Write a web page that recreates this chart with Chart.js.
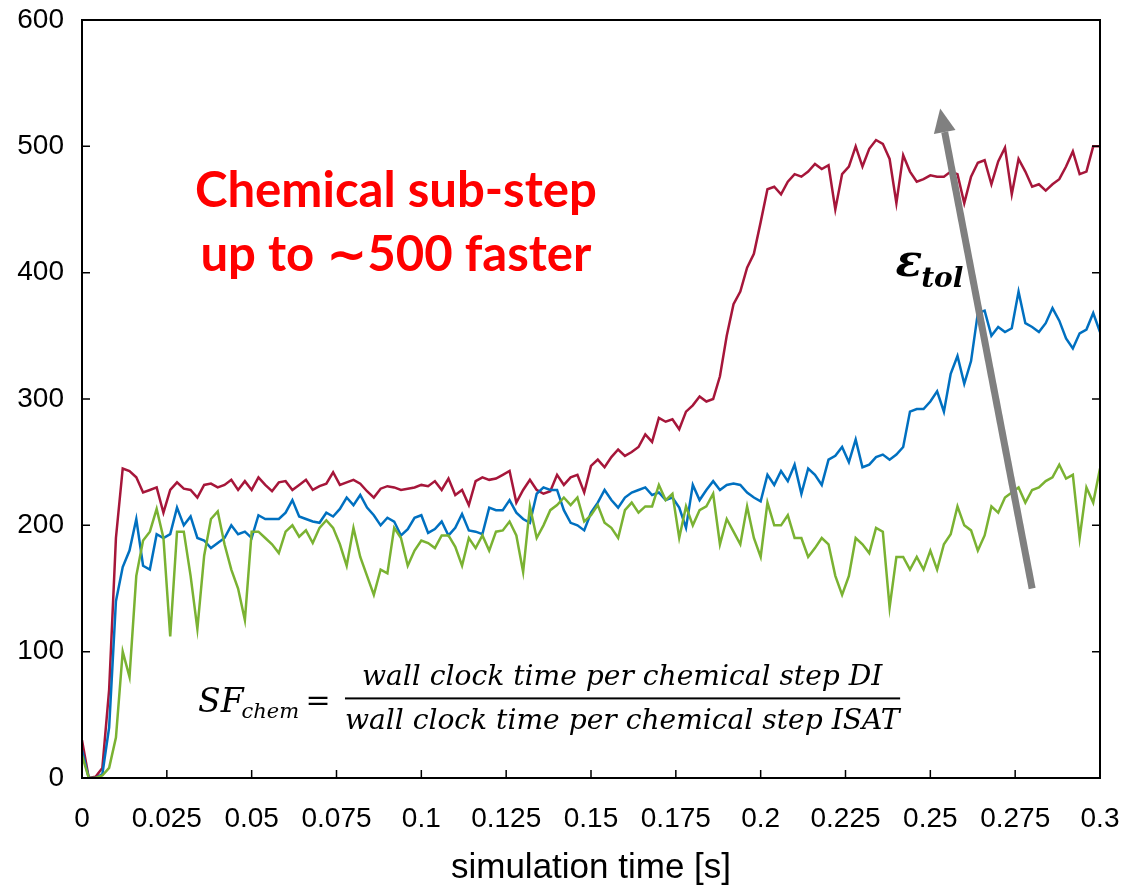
<!DOCTYPE html>
<html>
<head>
<meta charset="utf-8">
<script src="https://cdn.jsdelivr.net/npm/chart.js@4.4.0/dist/chart.umd.min.js"></script>
<style>
  html, body { margin: 0; padding: 0; background: #fff; }
  #wrap { width: 1129px; height: 889px; }
</style>
</head>
<body>
<div id="wrap"><canvas id="sf-chart" width="1129" height="889"></canvas></div>
<script>
'use strict';

// sample spacing of the three runs [s]
const timeStep = 0.002;
const xTicks = [ 0, 0.025, 0.05, 0.075, 0.1, 0.125, 0.15, 0.175, 0.2, 0.225, 0.25, 0.275, 0.3, ];
const yTicks = [ 0, 100, 200, 300, 400, 500, 600, ];

// speed-up factor, loosest tolerance (top curve)
const sfLoose = [
  30, 0, 1, 8, 70, 190, 245, 243, 238, 226, 228, 230, 210, 228, 234, 229, 228, 222, 232, 233, 230, 232, 236, 228, 235, 228, 238, 232, 227, 234, 235,
  228, 232, 236, 228, 231, 233, 242, 232, 234, 236, 233, 227, 222, 229, 231, 230, 228, 229, 230, 232, 231, 235, 228, 237, 224, 228, 216, 235, 238, 236, 237,
  240, 243, 218, 228, 236, 228, 225, 227, 240, 232, 238, 240, 226, 247, 252, 246, 254, 260, 255, 258, 262, 272, 266, 285, 282, 284, 276, 290, 295, 302,
  298, 300, 318, 350, 375, 385, 404, 415, 440, 466, 468, 462, 472, 478, 476, 480, 486, 482, 485, 450, 478, 484, 500, 484, 498, 505, 502, 490, 455, 493,
  480, 472, 474, 477, 476, 476, 480, 478, 455, 476, 487, 489, 470, 488, 499, 462, 490, 480, 468, 470, 465, 470, 474, 484, 496, 478, 480, 500, 500,
];
// middle tolerance
const sfMid = [
  22, 0, 0, 3, 40, 140, 167, 180, 205, 168, 165, 193, 190, 193, 214, 200, 207, 190, 188, 182, 186, 190, 200, 193, 195, 190, 208, 205, 205, 205, 210,
  220, 207, 205, 203, 202, 210, 207, 213, 222, 216, 224, 214, 208, 200, 206, 203, 192, 197, 206, 208, 194, 197, 203, 192, 198, 209, 196, 195, 193, 214, 212,
  212, 220, 210, 205, 202, 225, 230, 228, 228, 212, 202, 200, 196, 210, 218, 228, 220, 214, 222, 226, 228, 230, 224, 226, 220, 222, 214, 198, 232, 220,
  228, 235, 228, 232, 233, 232, 226, 222, 219, 240, 232, 243, 235, 248, 225, 245, 240, 232, 252, 255, 262, 250, 268, 246, 248, 254, 256, 252, 256, 262,
  290, 292, 292, 298, 306, 290, 320, 334, 312, 330, 368, 370, 350, 357, 353, 356, 385, 360, 357, 353, 360, 372, 362, 348, 340, 352, 355, 368, 353,
];
// tightest tolerance
const sfTight = [
  18, 0, 0, 2, 8, 32, 100, 80, 160, 188, 195, 213, 190, 112, 195, 195, 160, 118, 176, 205, 211, 185, 165, 150, 125, 195, 195, 190, 185, 178, 195,
  200, 191, 196, 186, 198, 204, 198, 185, 168, 198, 175, 160, 145, 165, 162, 198, 190, 168, 180, 188, 186, 182, 192, 192, 183, 168, 190, 182, 192, 180, 195,
  196, 203, 192, 163, 215, 190, 200, 212, 216, 222, 216, 222, 203, 208, 216, 202, 198, 190, 212, 218, 210, 215, 215, 232, 220, 225, 190, 215, 200, 212,
  215, 225, 185, 205, 195, 185, 215, 190, 175, 218, 200, 200, 208, 190, 190, 175, 182, 190, 185, 160, 145, 160, 190, 185, 178, 198, 195, 135, 175, 175,
  165, 175, 165, 180, 165, 185, 193, 215, 200, 196, 180, 192, 215, 210, 222, 226, 230, 218, 228, 230, 235, 238, 248, 237, 240, 190, 230, 218, 245,
];

const SansFamily = "'Liberation Sans', Arial, sans-serif";
const SerifFamily = "'DejaVu Serif', serif";

function toPoints(values) {
  return values.map((v, i) => ({ x: +(i * timeStep).toFixed(3), y: v }));
}

function fitFontSize(ctx, text, style, family, width) {
  ctx.font = `${style} 100px ${family}`;
  return 100 * width / ctx.measureText(text).width;
}

function drawArrow(ctx, x0, y0, x1, y1) {
  let ang = Math.atan2(y1 - y0, x1 - x0);
  let headLen = 24, headHalf = 11;
  let bx = x1 - headLen * Math.cos(ang);
  let by = y1 - headLen * Math.sin(ang);
  ctx.strokeStyle = '#808080';
  ctx.fillStyle = '#808080';
  ctx.lineWidth = 7;
  ctx.lineCap = 'butt';
  ctx.beginPath();
  ctx.moveTo(x0, y0);
  ctx.lineTo(bx, by);
  ctx.stroke();
  ctx.beginPath();
  ctx.moveTo(x1, y1);
  ctx.lineTo(bx + headHalf * Math.sin(ang), by - headHalf * Math.cos(ang));
  ctx.lineTo(bx - headHalf * Math.sin(ang), by + headHalf * Math.cos(ang));
  ctx.closePath();
  ctx.fill();
}

const frameAndNotes = {
  id: 'frameAndNotes',
  afterDatasetsDraw(chart) {
    const { ctx, chartArea: area, scales: { x, y } } = chart;
    ctx.save();
    // box + inward ticks
    ctx.strokeStyle = '#000';
    ctx.lineWidth = 2;
    ctx.strokeRect(area.left, area.top, area.right - area.left, area.bottom - area.top);
    ctx.lineWidth = 1.5;
    ctx.beginPath();
    xTicks.forEach(v => {
      let px = x.getPixelForValue(v);
      ctx.moveTo(px, area.bottom);
      ctx.lineTo(px, area.bottom - 8);
    });
    yTicks.forEach(v => {
      let py = y.getPixelForValue(v);
      ctx.moveTo(area.left, py);
      ctx.lineTo(area.left + 8, py);
      ctx.moveTo(area.right, py);
      ctx.lineTo(area.right - 8, py);
    });
    ctx.stroke();

    // tolerance arrow
    drawArrow(ctx, x.getPixelForValue(0.280), y.getPixelForValue(150), x.getPixelForValue(0.2529), y.getPixelForValue(530));

    // red headline
    ctx.fillStyle = '#FF0000';
    ctx.textAlign = 'center';
    ctx.textBaseline = 'alphabetic';
    let cx = x.getPixelForValue(0.0925);
    let fs = fitFontSize(ctx, 'Chemical sub-step', 'bold', "Lato, 'DejaVu Sans', sans-serif", 402);
    ctx.font = `bold ${fs}px Lato, 'DejaVu Sans', sans-serif`;
    ctx.fillText('Chemical sub-step', cx, y.getPixelForValue(452));
    ctx.fillText('up to \u223C500 faster', cx, y.getPixelForValue(401));

    // epsilon_tol
    ctx.fillStyle = '#000';
    ctx.textAlign = 'left';
    let ex = x.getPixelForValue(0.2397);
    ctx.font = `bold italic 44px ${SerifFamily}`;
    ctx.fillText('\u03B5', ex, y.getPixelForValue(397));
    let ew = ctx.measureText('\u03B5').width;
    ctx.font = `bold italic 28px ${SerifFamily}`;
    ctx.fillText('tol', ex + ew - 1, y.getPixelForValue(389));

    // SF_chem formula
    let sx = x.getPixelForValue(0.0342);
    let sy = y.getPixelForValue(52);
    ctx.font = `italic 33px ${SerifFamily}`;
    ctx.fillText('SF', sx, sy);
    let sw = ctx.measureText('SF').width;
    ctx.font = `italic 21px ${SerifFamily}`;
    ctx.fillText('chem', sx + sw - 2, sy + 6);
    ctx.font = `30px ${SerifFamily}`;
    ctx.textAlign = 'center';
    ctx.fillText('=', x.getPixelForValue(0.0696), sy - 2);
    let fx = x.getPixelForValue(0.1592);
    let num = 'wall clock time per chemical step DI';
    let den = 'wall clock time per chemical step ISAT';
    let nfs = fitFontSize(ctx, den, 'italic', SerifFamily, 555);
    ctx.font = `italic ${nfs}px ${SerifFamily}`;
    ctx.fillText(num, fx, y.getPixelForValue(73.5));
    ctx.fillText(den, fx, y.getPixelForValue(38.8));
    let barY = y.getPixelForValue(63);
    ctx.fillRect(x.getPixelForValue(0.0775), barY - 1, x.getPixelForValue(0.2411) - x.getPixelForValue(0.0775), 2);
    ctx.restore();
  },
};

Chart.defaults.font.family = SansFamily;
Chart.defaults.color = '#000';

let lineSet = (data, color, order) => ({
  data: toPoints(data),
  borderColor: color,
  backgroundColor: color,
  borderWidth: 2.5,
  pointRadius: 0,
  tension: 0,
  order,
});

let data = {
  datasets: [
    lineSet(sfLoose, '#A6163A', 2),
    lineSet(sfMid, '#0070C0', 1),
    lineSet(sfTight, '#7AB232', 0),
  ],
};

let options = {
  responsive: false,
  animation: false,
  devicePixelRatio: 1,
  parsing: false,
  layout: {
    padding: { top: 20, right: 29, left: 0, bottom: 0 },
  },
  plugins: {
    legend: { display: false },
    tooltip: { enabled: false },
  },
  scales: {
    x: {
      type: 'linear',
      min: 0,
      max: 0.3,
      afterBuildTicks: s => { s.ticks = xTicks.map(v => ({ value: v })); },
      afterFit: s => {
        s.height = 111;
        s.paddingLeft = 0;
        s.paddingRight = 0;
      },
      grid: { display: false, drawTicks: false },
      border: { display: false },
      ticks: {
        padding: 24,
        autoSkip: false,
        maxRotation: 0,
        font: { size: 28 },
        callback: v => String(+v.toFixed(3)),
      },
      title: {
        display: true,
        text: 'simulation time [s]',
        font: { size: 35 },
        padding: { top: 0, bottom: 0 },
      },
    },
    y: {
      type: 'linear',
      min: 0,
      max: 600,
      afterBuildTicks: s => { s.ticks = yTicks.map(v => ({ value: v })); },
      afterFit: s => {
        s.width = 82;
        s.paddingTop = 0;
        s.paddingBottom = 0;
      },
      grid: { display: false, drawTicks: false },
      border: { display: false },
      ticks: {
        padding: 18,
        font: { size: 28 },
      },
    },
  },
};

let statsChart = new Chart(document.getElementById('sf-chart'), {
  type: 'line',
  data: data,
  options: options,
  plugins: [ frameAndNotes, ],
});
</script>
</body>
</html>
